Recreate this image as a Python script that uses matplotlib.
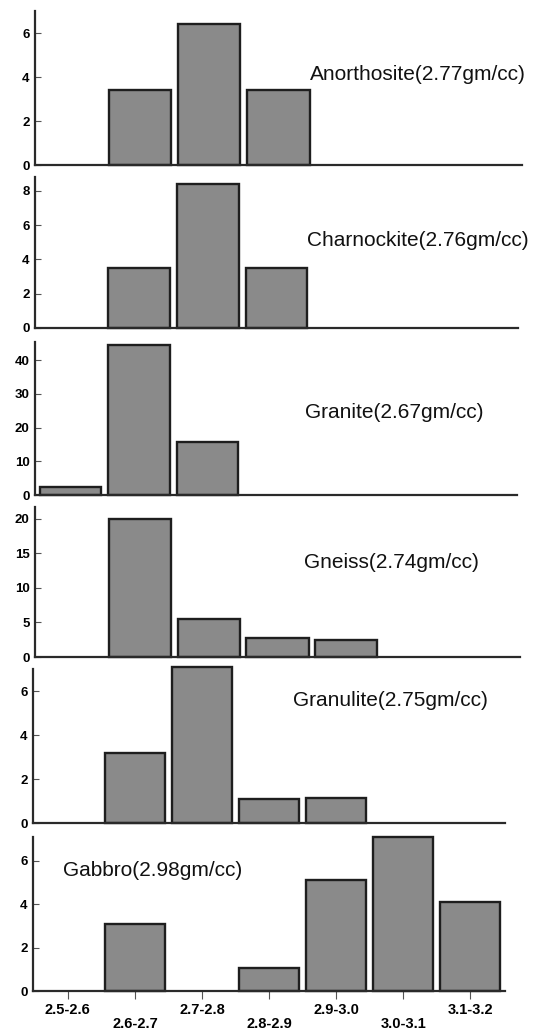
import numpy as np
import matplotlib
matplotlib.use('Agg')
import matplotlib.pyplot as plt

# Density classes (gm/cc) and number of samples in each class, per rock type
classes = ['2.5-2.6', '2.6-2.7', '2.7-2.8', '2.8-2.9', '2.9-3.0', '3.0-3.1', '3.1-3.2']
rock_names = ['Anorthosite(2.77gm/cc)', 'Charnockite(2.76gm/cc)', 'Granite(2.67gm/cc)',
              'Gneiss(2.74gm/cc)', 'Granulite(2.75gm/cc)', 'Gabbro(2.98gm/cc)']
anorthosite = [0, 3.4, 6.4, 3.4, 0, 0, 0]
charnockite = [0, 3.5, 8.4, 3.5, 0, 0, 0]
granite = [2.5, 44.5, 15.8, 0, 0, 0, 0]
gneiss = [0, 20.0, 5.5, 2.7, 2.5, 0, 0]
granulite = [0, 3.2, 7.1, 1.1, 1.15, 0, 0]
gabbro = [0, 3.1, 0, 1.06, 5.1, 7.1, 4.1]
counts = [anorthosite, charnockite, granite, gneiss, granulite, gabbro]
y_ticks = [[0, 2, 4, 6], [0, 2, 4, 6, 8], [0, 10, 20, 30, 40],
           [0, 5, 10, 15, 20], [0, 2, 4, 6], [0, 2, 4, 6]]

# Layout in pixels (figure is 536 x 1036): left, right, top, baseline, ymax
W, H = 536, 1036
panels = [(35, 522, 11, 165, 7.0),
          (35, 518, 177, 328, 8.8),
          (35, 517, 342, 495, 45.4),
          (35, 520, 507, 657, 21.7),
          (33, 505, 669, 823, 7.0),
          (33, 505, 837, 991, 7.1)]
# label position: left x, centre y (pixels)
label_pos = [(310, 75), (307, 240), (305, 412), (304, 562), (293, 700), (63, 870)]

bar_col = '#8a8a8a'
edge_col = '#1e1e1e'
line_col = '#2a2a2a'
x = np.arange(len(classes))

fig = plt.figure(figsize=(W / 100, H / 100), dpi=100)
plt.rcParams['font.family'] = ['Liberation Sans', 'DejaVu Sans']

for k in range(len(counts)):
    left, right, top, base, ymax = panels[k]
    ax = fig.add_axes([left / W, 1 - base / H, (right - left) / W, (base - top) / H])
    vals = np.array(counts[k])
    keep = vals > 0
    ax.bar(x[keep], vals[keep], width=0.9, color=bar_col, edgecolor=edge_col,
           linewidth=1.7, clip_on=False, zorder=2)
    ax.set_xlim(-0.52, 6.52)
    ax.set_ylim(0, ymax)
    for s in ['top', 'right']:
        ax.spines[s].set_visible(False)
    for s in ['left', 'bottom']:
        ax.spines[s].set_color(line_col)
        ax.spines[s].set_linewidth(1.6)
    ax.set_yticks(y_ticks[k])
    ax.tick_params(axis='y', direction='in', length=4, width=0.8, color='#555555',
                   pad=4, labelsize=9.5)
    for lab in ax.get_yticklabels():
        lab.set_fontweight('bold')
    if k < len(counts) - 1:
        ax.set_xticks([])
    else:
        ax.set_xticks(x)
        ax.set_xticklabels(classes, fontsize=10.5, fontweight='bold')
        ax.tick_params(axis='x', direction='out', length=6, width=0.8, color='#555555')
        # Staggered category labels
        for i, t in enumerate(ax.xaxis.get_major_ticks()):
            t.set_pad(3 if i % 2 == 0 else 12.5)
    lx, ly = label_pos[k]
    fig.text(lx / W, 1 - ly / H, rock_names[k], fontsize=15, va='center', ha='left',
             color='#111111')

fig.savefig('out.png', dpi=100)
